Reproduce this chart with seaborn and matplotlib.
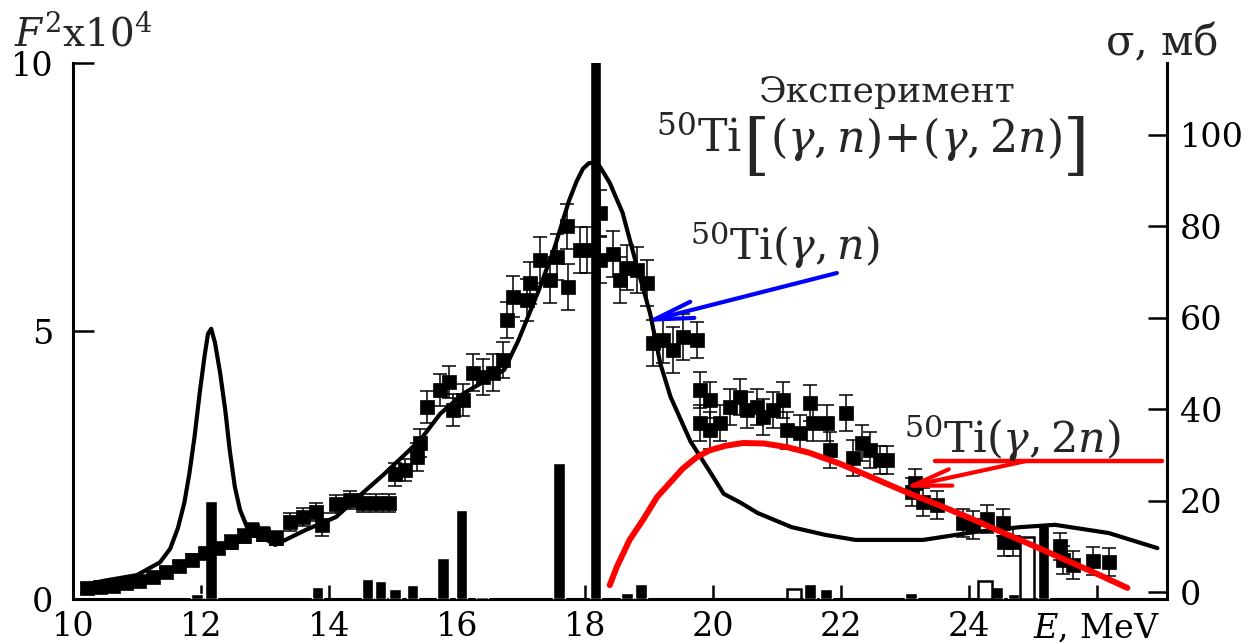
import numpy as np
import pandas as pd
import matplotlib
matplotlib.use("Agg")
import matplotlib.pyplot as plt
import seaborn as sns

sns.set_style("ticks")
plt.rcParams['font.family'] = ['DejaVu Serif']
plt.rcParams['mathtext.fontset'] = 'dejavuserif'

# ---------------- data ----------------
# strength bars (left axis, F^2 x 10^4)
bar_E = [11.94, 12.16, 13.82, 14.60, 14.81, 15.03, 15.31, 15.78, 16.07, 16.39,
         17.60, 18.17, 18.66, 18.88, 21.52, 21.77, 23.10, 24.44, 24.70, 25.17]
bar_F = [0.10, 1.83, 0.23, 0.37, 0.34, 0.18, 0.26, 0.76, 1.66, 0.04,
         2.53, 10.5, 0.12, 0.28, 0.28, 0.18, 0.12, 0.22, 0.09, 1.38]
open_bar_E = [21.27, 24.26, 24.91]
open_bar_F = [0.19, 0.34, 1.16]

# theory curve (right axis, mb)
theory_E = [10.16, 10.5, 11.0, 11.36, 11.52, 11.64, 11.74, 11.82, 11.90, 11.98,
            12.06, 12.11, 12.16, 12.22, 12.30, 12.38, 12.45, 12.53, 12.61, 12.72, 12.9,
            13.16, 13.64, 14.11, 14.53, 14.84, 15.43, 15.74, 16.11, 16.74, 16.96,
            17.28, 17.53, 17.75, 17.87, 17.97, 18.06, 18.14, 18.24, 18.39, 18.59,
            18.80, 19.02, 19.18, 19.34, 19.65, 19.97, 20.17, 20.44, 20.70, 21.23,
            21.76, 22.23, 23.29, 24.08, 24.81, 25.35, 26.19, 26.95]
theory_S = [1.5, 2.5, 3.7, 6.5, 9.5, 14.0, 19.5, 26.0, 34.0, 43.5,
            52.0, 56.5, 57.6, 54.5, 47.9, 39.8, 31.0, 23.0, 18.0, 14.2, 12.5,
            10.3, 13.6, 16.4, 21.7, 25.5, 33.3, 39.0, 43.5, 48.6, 55.0,
            66.0, 75.5, 85.5, 89.8, 92.6, 93.8, 94.0, 93.0, 89.5, 83.0,
            72.0, 61.0, 50.0, 42.7, 33.0, 26.0, 21.5, 19.5, 17.3, 14.2,
            12.5, 11.4, 11.4, 13.1, 14.2, 14.7, 12.9, 9.6]

# (gamma,2n) curve (right axis, mb)
g2n_E = [18.39, 18.50, 18.70, 18.91, 19.13, 19.33, 19.53, 19.75, 19.95, 20.20,
         20.47, 20.80, 21.16, 21.50, 22.0, 22.5, 23.0, 23.5, 24.0, 24.5,
         25.0, 25.5, 26.0, 26.48]
g2n_S = [1.5, 5.5, 11.4, 15.8, 20.8, 23.9, 27.0, 29.5, 31.0, 32.0,
         32.6, 32.5, 31.7, 30.5, 28.0, 25.0, 22.0, 19.2, 16.3, 13.2,
         10.2, 7.1, 4.0, 0.9]

# experiment points (right axis, mb)
exp_E = [10.22, 10.42, 10.63, 10.83, 11.03, 11.25, 11.45, 11.66, 11.86, 12.06,
         12.27, 12.47, 12.67, 12.80, 12.97, 13.17, 13.39, 13.59, 13.80, 13.89,
         14.11, 14.33, 14.53, 14.73, 14.94, 15.03, 15.19, 15.38, 15.42, 15.53,
         15.73, 15.88, 15.94, 16.09, 16.25, 16.41, 16.56, 16.72, 16.78, 16.88,
         17.09, 17.14, 17.30, 17.45, 17.56, 17.72, 17.73, 17.92, 18.03, 18.23,
         18.23, 18.44, 18.55, 18.66, 18.81, 18.97, 19.06, 19.22, 19.38, 19.53,
         19.75, 19.80, 19.95, 19.80, 19.95, 20.11, 20.27, 20.42, 20.53, 20.69,
         20.78, 20.94, 21.09, 21.16, 21.36, 21.52, 21.56, 21.78, 21.83, 22.09,
         22.19, 22.34, 22.45, 22.61, 22.72, 23.11, 23.16, 23.28, 23.50, 23.91,
         24.06, 24.28, 24.53, 24.56, 24.69, 25.42, 25.47, 25.63, 25.94, 26.20]
exp_S = [0.8, 1.0, 1.4, 1.9, 2.5, 3.3, 4.3, 5.6, 7.1, 8.5,
         9.6, 10.9, 12.3, 13.6, 12.7, 11.8, 15.3, 16.4, 17.5, 14.7,
         19.3, 20.1, 19.5, 19.5, 19.5, 25.8, 26.7, 29.5, 32.6, 40.5,
         44.2, 46.0, 39.8, 42.0, 48.0, 47.0, 48.0, 50.8, 59.5, 64.6,
         63.9, 67.6, 72.6, 68.3, 73.3, 80.0, 66.7, 74.8, 74.8, 83.0,
         72.6, 74.0, 68.3, 71.0, 70.5, 67.6, 54.5, 55.1, 53.0, 55.8,
         55.1, 44.2, 42.0, 37.0, 35.4, 37.0, 40.5, 42.7, 39.8, 40.5,
         38.3, 39.8, 42.0, 35.4, 34.8, 41.4, 37.0, 37.0, 31.1, 39.2,
         29.3, 32.6, 31.1, 28.9, 28.9, 21.9, 23.9, 19.7, 19.0, 15.1,
         14.7, 16.0, 15.2, 10.9, 10.9, 10.0, 7.0, 5.9, 6.8, 6.6]
exp_err = [1.0, 1.0, 1.0, 1.0, 1.0, 1.0, 1.0, 1.2, 1.2, 1.2,
           1.2, 1.5, 1.5, 1.5, 1.5, 1.5, 2.0, 2.0, 2.0, 2.5,
           2.0, 2.0, 2.0, 2.0, 2.0, 2.5, 2.5, 3.0, 3.0, 3.5,
           3.5, 3.5, 3.5, 3.5, 4.0, 4.0, 4.0, 4.0, 4.0, 4.5,
           4.5, 4.5, 5.0, 5.0, 5.0, 5.0, 5.0, 5.0, 5.0, 5.0,
           5.0, 5.0, 5.0, 5.0, 5.0, 5.0, 5.0, 5.0, 5.0, 5.0,
           4.0, 4.0, 4.0, 4.0, 4.0, 4.0, 4.0, 4.0, 4.0, 4.0,
           4.0, 4.0, 4.0, 4.0, 4.0, 4.0, 4.0, 4.0, 4.0, 4.0,
           4.0, 4.0, 4.0, 3.0, 3.0, 3.0, 3.0, 3.0, 3.0, 3.0,
           3.0, 3.0, 3.0, 3.0, 3.0, 3.0, 3.0, 3.0, 3.0, 3.0]

x_ticks = [10, 12, 14, 16, 18, 20, 22, 24, 26]
x_labels = ['10', '12', '14', '16', '18', '20', '22', '24', r'$E$, MeV']
left_ticks = [0, 5, 10]
right_ticks = [0, 20, 40, 60, 80, 100]

# ---------------- figure ----------------
W, H = 1250, 643
fig = plt.figure(figsize=(W / 100, H / 100), dpi=100)

def px(x, y):
    return (x / W, 1 - y / H)

ax = fig.add_axes([73 / W, 1 - 599 / H, (1167 - 73) / W, (599 - 63) / H])
ax2 = ax.twinx()

# bars on left axis
ax.bar(bar_E, bar_F, width=0.18, color='black', zorder=3)
ax.bar(open_bar_E, open_bar_F, width=0.22, facecolor='white', edgecolor='black',
       linewidth=1.8, zorder=3)

ax.set_xlim(10.0, 27.1)
ax.set_ylim(0, 10)
ax.set_xticks(x_ticks)
ax.set_xticklabels(x_labels)
ax.set_yticks(left_ticks)
ax.set_yticklabels([str(t) for t in left_ticks])

# experiment data
df_exp = pd.DataFrame({'E': exp_E, 'S': exp_S, 'err': exp_err})
ax2.errorbar(df_exp['E'], df_exp['S'], yerr=df_exp['err'], fmt='none',
             ecolor='black', elinewidth=1.1, capsize=5, capthick=1.1, zorder=2)
sns.scatterplot(data=df_exp, x='E', y='S', marker='s', s=100, color='black',
                edgecolor='black', linewidth=0.5, ax=ax2, zorder=3)

# theory curve
df_th = pd.DataFrame({'E': theory_E, 'S': theory_S})
sns.lineplot(data=df_th, x='E', y='S', color='black', linewidth=3.0,
             sort=False, estimator=None, ax=ax2, zorder=4)

# (gamma,2n) curve
df_2n = pd.DataFrame({'E': g2n_E, 'S': g2n_S})
sns.lineplot(data=df_2n, x='E', y='S', color='red', linewidth=4.3,
             sort=False, estimator=None, ax=ax2, zorder=5)

ax2.set_ylim(-1.53, 115.75)
ax2.set_yticks(right_ticks)
ax2.set_yticklabels([str(t) for t in right_ticks])
ax2.set_xlabel('')
ax2.set_ylabel('')
ax.set_xlabel('')
ax.set_ylabel('')

# arrows
ax2.annotate('', xy=(18.94, 59.1), xytext=(21.94, 69.8),
             arrowprops=dict(arrowstyle='->,head_length=1.4,head_width=0.3',
                             color='blue', lw=3, mutation_scale=20,
                             shrinkA=0, shrinkB=0), zorder=6)
ax2.plot([23.47, 27.02], [28.7, 28.7], color='red', lw=3.2, zorder=6)
ax2.annotate('', xy=(22.97, 22.8), xytext=(24.91, 28.7),
             arrowprops=dict(arrowstyle='->,head_length=1.4,head_width=0.3',
                             color='red', lw=3, mutation_scale=20,
                             shrinkA=0, shrinkB=0), zorder=6)

# spines and ticks
for a in (ax, ax2):
    a.spines['top'].set_visible(False)
    for s in ('left', 'right', 'bottom'):
        a.spines[s].set_linewidth(2.2)
        a.spines[s].set_color('black')
ax.spines['right'].set_visible(False)
ax2.spines['left'].set_visible(False)
ax2.spines['bottom'].set_visible(False)

ax.tick_params(axis='x', direction='in', length=10, width=1.8, pad=9,
               labelsize=24, colors='black')
ax.tick_params(axis='y', direction='in', length=15, width=1.8, pad=14,
               labelsize=24, colors='black')
ax2.tick_params(axis='y', direction='in', length=14, width=1.8, pad=9,
                labelsize=24, colors='black')

# texts
fig.text(*px(14, 45), r'$F^{2}$x10$^{4}$', ha='left', va='baseline', fontsize=28)
fig.text(*px(1106, 55), 'σ, мб', ha='left', va='baseline', fontsize=30)
fig.text(*px(887, 102), 'Эксперимент', ha='center', va='baseline', fontsize=26)
fig.text(*px(690, 260), r'$^{50}\mathrm{Ti}(\gamma,n)$', ha='left', va='baseline',
         fontsize=31)
fig.text(*px(904, 453), r'$^{50}\mathrm{Ti}(\gamma,2n)$', ha='left', va='baseline',
         fontsize=31)

# big formula, placed piece by piece so the brackets can be taller
fig.canvas.draw()
renderer = fig.canvas.get_renderer()
pieces = [(r'$^{50}\mathrm{Ti}$', 32, 152),
          ('[', 48, 167),
          (r'$(\gamma,n)\!+\!(\gamma,2n)$', 32, 152),
          (']', 48, 167)]
xcur = 656
for txt, size, base in pieces:
    t = fig.text(*px(xcur, base), txt, ha='left', va='baseline', fontsize=size,
                 fontweight='light')
    bb = t.get_window_extent(renderer=renderer)
    xcur += bb.width + 1

fig.savefig('out.png', dpi=100)
